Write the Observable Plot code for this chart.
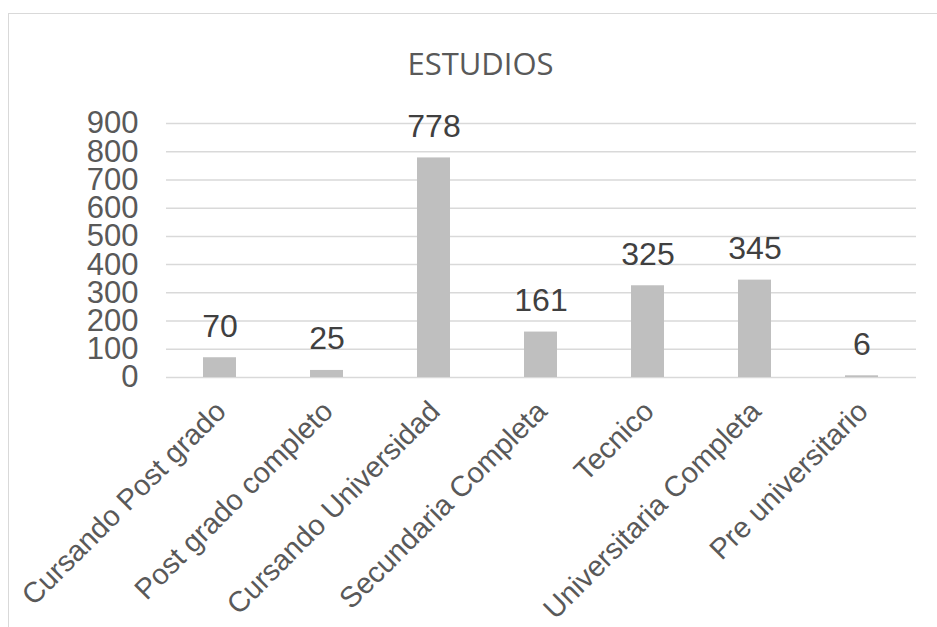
<!DOCTYPE html>
<html>
<head>
<meta charset="utf-8">
<script src="https://cdn.jsdelivr.net/npm/d3@7"></script>
<script src="https://cdn.jsdelivr.net/npm/@observablehq/plot@0.6"></script>
<style>
  html, body { margin: 0; padding: 0; background: #ffffff; overflow: hidden; }
  #page { position: relative; width: 937px; height: 627px; overflow: hidden; }
  #border { position: absolute; left: 8px; top: 13px; width: 1000px; height: 1000px;
            border-left: 1.5px solid #d9d9d9; border-top: 1.5px solid #d9d9d9; }
  #chart { position: absolute; left: 0; top: 0; }
</style>
</head>
<body>
<div id="page">
  <div id="border"></div>
  <div id="chart"></div>
</div>
<script>
const title = "ESTUDIOS";
const categories = [
  "Cursando Post grado",
  "Post grado completo",
  "Cursando Universidad",
  "Secundaria Completa",
  "Tecnico",
  "Universitaria Completa",
  "Pre universitario"
];
const values = [70, 25, 778, 161, 325, 345, 6];
const yTicks = [0, 100, 200, 300, 400, 500, 600, 700, 800, 900];

const data = categories.map((c, i) => ({category: c, value: values[i]}));

const chart = Plot.plot({
  width: 937,
  height: 627,
  marginLeft: 166,
  marginRight: 21,
  marginTop: 123,
  marginBottom: 250,
  style: {fontFamily: "'Liberation Sans', Arial, sans-serif", background: "transparent"},
  x: {domain: categories, paddingInner: 0.69, paddingOuter: 0.345, axis: null},
  y: {domain: [0, 900], axis: null},
  marks: [
    Plot.gridY(yTicks, {stroke: "#d9d9d9", strokeOpacity: 1, strokeWidth: 1.5}),
    Plot.barY(data, {x: "category", y: "value", fill: "#bfbfbf"}),
    Plot.axisY(yTicks, {label: null, tickSize: 0, tickPadding: 28, fontSize: 31, fill: "#595959", tickFormat: d => String(d)}),
    Plot.text(data, {x: "category", y: "value", text: d => String(d.value), dy: -21,
      lineAnchor: "bottom", fontSize: 32, fill: "#404040"}),
    Plot.text(data, {x: "category", frameAnchor: "bottom", text: "category", rotate: -45,
      textAnchor: "end", lineAnchor: "top", dx: -7, dy: 21, fontSize: 29, fill: "#595959"}),
    Plot.text([title], {frameAnchor: "top-left", text: d => d, dx: 314, dy: -49,
      textAnchor: "middle", lineAnchor: "bottom", fontSize: 31, fill: "#595959",
      fontFamily: "'Open Sans', sans-serif"})
  ]
});
document.getElementById("chart").appendChild(chart);
</script>
</body>
</html>
